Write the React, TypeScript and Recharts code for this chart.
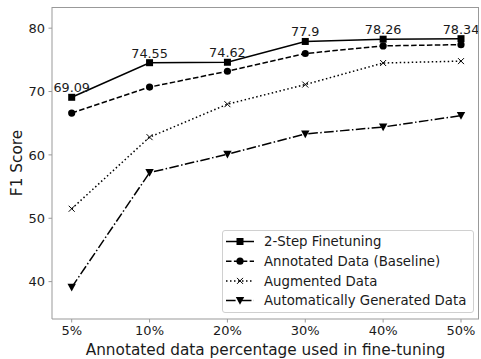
import React from 'react';
import { LineChart, Line, XAxis, YAxis, LabelList } from 'recharts';

const categories = ['5%', '10%', '20%', '30%', '40%', '50%'];
const twoStep = [69.09, 74.55, 74.62, 77.9, 78.26, 78.34];
const baseline = [66.6, 70.7, 73.2, 76.0, 77.2, 77.4];
const augmented = [51.5, 62.8, 68.0, 71.1, 74.5, 74.8];
const autoGen = [39.1, 57.2, 60.1, 63.3, 64.4, 66.2];
const yTicks = [40, 50, 60, 70, 80];

const seriesNames = ['2-Step Finetuning', 'Annotated Data (Baseline)', 'Augmented Data', 'Automatically Generated Data'];

const data = categories.map((c, i) => ({
  x: c,
  twoStep: twoStep[i],
  baseline: baseline[i],
  augmented: augmented[i],
  autoGen: autoGen[i],
}));

const FONT = 'DejaVu Sans';
const SPINE = '#999';

type Shape = 'square' | 'circle' | 'x' | 'tri';

const series: { key: string; name: string; dash?: string; shape: Shape }[] = [
  { key: 'twoStep', name: seriesNames[0], shape: 'square' },
  { key: 'baseline', name: seriesNames[1], dash: '5.5 2.4', shape: 'circle' },
  { key: 'augmented', name: seriesNames[2], dash: '1.5 2.5', shape: 'x' },
  { key: 'autoGen', name: seriesNames[3], dash: '9.6 2.4 1.5 2.4', shape: 'tri' },
];

function Marker({ shape, cx, cy }: { shape: Shape; cx: number; cy: number }) {
  if (shape === 'square') return <rect x={cx - 3.5} y={cy - 3.5} width={7} height={7} fill="#000" />;
  if (shape === 'circle') return <circle cx={cx} cy={cy} r={3.6} fill="#000" />;
  if (shape === 'x')
    return (
      <g stroke="#000" strokeWidth={1}>
        <line x1={cx - 3} y1={cy - 3} x2={cx + 3} y2={cy + 3} />
        <line x1={cx - 3} y1={cy + 3} x2={cx + 3} y2={cy - 3} />
      </g>
    );
  return <polygon points={`${cx - 4.2},${cy - 3.6} ${cx + 4.2},${cy - 3.6} ${cx},${cy + 4.2}`} fill="#000" />;
}

const makeDot = (shape: Shape) => (props: any) => {
  const { cx, cy, index } = props;
  if (cx == null || cy == null) return <g key={index} />;
  return (
    <g key={`${shape}-${index}`}>
      <Marker shape={shape} cx={cx} cy={cy} />
    </g>
  );
};

const LegendBox = () => (
  <div
    style={{
      position: 'absolute',
      left: 222,
      top: 230,
      width: 252,
      height: 83,
      boxSizing: 'border-box',
      border: '1px solid #d0d0d0',
      borderRadius: 3,
      background: 'rgba(255,255,255,0.8)',
    }}
  >
    <svg width={250} height={81} style={{ position: 'absolute', left: 0, top: 0 }}>
      {series.map((s, i) => {
        const cy = 10.5 + i * 19.7;
        return (
          <g key={s.key}>
            <line x1={3} x2={31} y1={cy} y2={cy} stroke="#000" strokeWidth={1.5} strokeDasharray={s.dash} />
            <Marker shape={s.shape} cx={17} cy={cy} />
            <text x={41} y={cy} dy="0.36em" fontFamily={FONT} fontSize={13.3} fill="#1a1a1a">
              {s.name}
            </text>
          </g>
        );
      })}
    </svg>
  </div>
);

export default function App() {
  return (
    <div style={{ position: 'absolute', left: 0, top: 0, width: 481, height: 359, background: '#fff' }}>
      <LineChart width={481} height={359} data={data} margin={{ top: 7, right: 2, bottom: 0, left: 0 }}>
        <XAxis
          dataKey="x"
          height={40}
          padding={{ left: 19.7, right: 18 }}
          stroke={SPINE}
          tickSize={3.5}
          tickMargin={3}
          tick={{ fontFamily: FONT, fontSize: 13, fill: '#1a1a1a' }}
          tickLine={{ stroke: SPINE }}
          label={(props: any) => {
            const vb = props.viewBox;
            return (
              <text
                x={vb.x + vb.width / 2}
                y={355}
                textAnchor="middle"
                fontFamily={FONT}
                fontSize={15.3}
                fill="#1a1a1a"
              >
                Annotated data percentage used in fine-tuning
              </text>
            );
          }}
        />
        <YAxis
          type="number"
          domain={[34.1, 83.34]}
          ticks={yTicks}
          allowDataOverflow
          width={52}
          stroke={SPINE}
          tickSize={3.5}
          tickMargin={3.5}
          tick={{ fontFamily: FONT, fontSize: 13, fill: '#1a1a1a' }}
          tickLine={{ stroke: SPINE }}
          label={(props: any) => {
            const vb = props.viewBox;
            const cy = vb.y + vb.height / 2;
            return (
              <text
                x={22}
                y={cy}
                transform={`rotate(-90, 22, ${cy})`}
                textAnchor="middle"
                fontFamily={FONT}
                fontSize={15.3}
                fill="#1a1a1a"
              >
                F1 Score
              </text>
            );
          }}
        />
        {series.map((s) => (
          <Line
            key={s.key}
            dataKey={s.key}
            name={s.name}
            stroke="#000"
            strokeWidth={1.5}
            strokeDasharray={s.dash}
            dot={makeDot(s.shape)}
            activeDot={false}
            isAnimationActive={false}
          >
            {s.key === 'twoStep' && (
              <LabelList
                dataKey="twoStep"
                content={(p: any) => (
                  <text
                    x={p.x}
                    y={p.y - 5}
                    textAnchor="middle"
                    fontFamily={FONT}
                    fontSize={12.8}
                    fill="#1a1a1a"
                  >
                    {p.value}
                  </text>
                )}
              />
            )}
          </Line>
        ))}
      </LineChart>
      <div
        style={{
          position: 'absolute',
          left: 52,
          top: 7,
          width: 427,
          height: 312,
          borderTop: `1px solid ${SPINE}`,
          borderRight: `1px solid ${SPINE}`,
          boxSizing: 'border-box',
          pointerEvents: 'none',
        }}
      />
      <LegendBox />
    </div>
  );
}
